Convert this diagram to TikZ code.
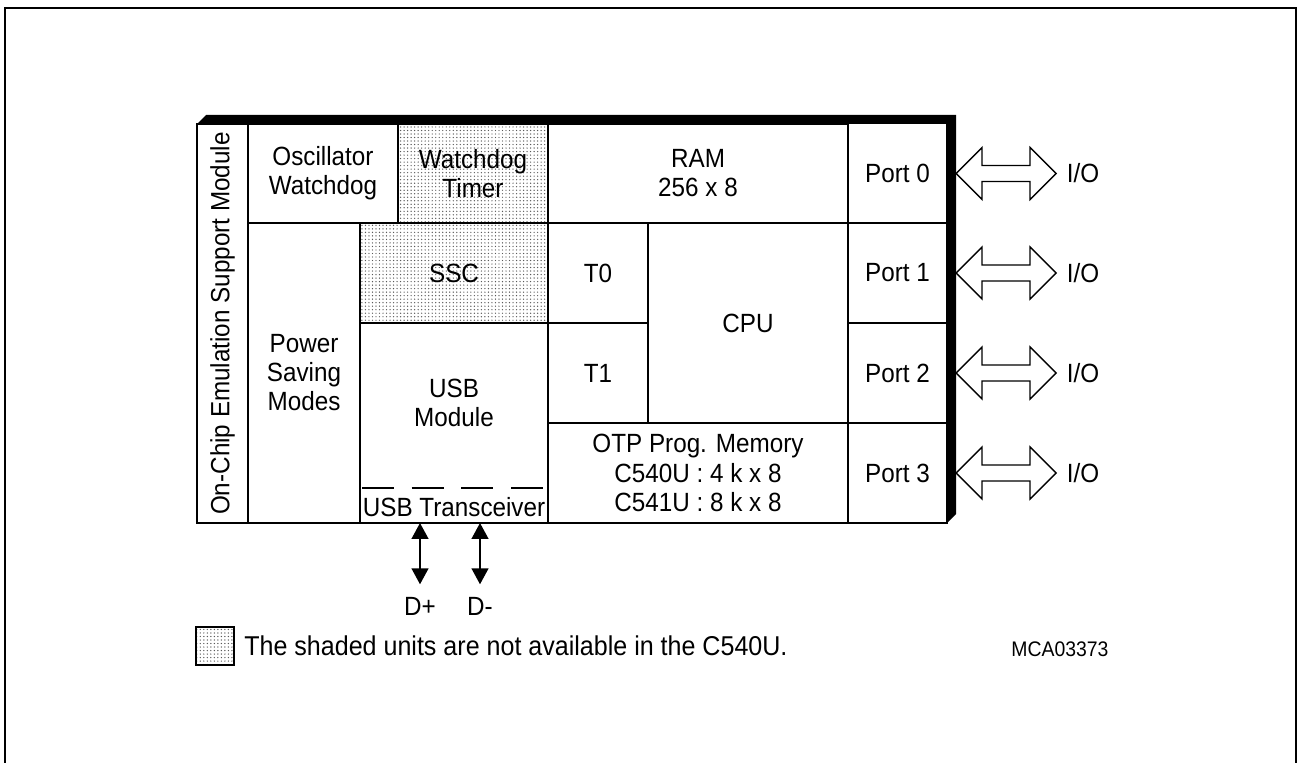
\documentclass[tikz,border=0pt]{standalone}
\usepackage{fontspec}
\setmainfont[FakeStretch=0.92]{Liberation Sans}
\usetikzlibrary{arrows.meta,patterns}

\pgfdeclarepatternformonly{finedots}{\pgfqpoint{-1pt}{-1pt}}{\pgfqpoint{1pt}{1pt}}{\pgfqpoint{2pt}{2pt}}{\pgfpathcircle{\pgfqpoint{0pt}{0pt}}{.4pt}\pgfusepath{fill}}

\tikzset{
  txt/.style={align=center, inner sep=0pt},
  cell/.style={txt, draw, line width=1pt},
  shaded/.style={pattern=finedots, pattern color=black!65},
  dline/.style={line width=1pt, {Triangle[length=9pt,width=9.5pt]}-{Triangle[length=9pt,width=9.5pt]}},
}

\begin{document}
\begin{tikzpicture}[x=0.02cm, y=-0.02cm, font=\fontsize{15}{16.5}\selectfont]
				\useasboundingbox (0,0) rectangle (1297,763);
				\draw[line width=1.2pt] (5,780) -- (5,8) -- (1296.5,8) -- (1296.5,780);
				% raised edge of the chip
				\fill (197,124) -- (206,115) -- (956,115) -- (956,514) -- (947,523) -- (947,124) -- cycle;
				\node[cell, rotate=90, minimum width=7.98cm, minimum height=1.02cm] (emu) at (222.5,323.5) {On-Chip Emulation Support Module};
				\node[cell, minimum width=3cm, minimum height=1.98cm] (osc) at (323,173.5) {Oscillator\\Watchdog};
				\node[cell, shaded, minimum width=3cm, minimum height=1.98cm] (wdt) at (473,173.5) {Watchdog\\Timer};
				\node[cell, minimum width=6cm, minimum height=1.98cm] (ram) at (698,173.5) {RAM\\256 x 8};
				\node[cell, minimum width=2.24cm, minimum height=6cm] (psm) at (304,373) {Power\\Saving\\Modes};
				\node[cell, shaded, minimum width=3.76cm, minimum height=2cm] (ssc) at (454,273) {SSC};
				\node[cell, minimum width=3.76cm, minimum height=4cm] (usb) at (454,423) {};
				\node[txt] (usbtext) at (454,403) {USB\\Module};
				\draw[line width=1pt, dash pattern=on 18.1pt off 10.2pt] (362,488) -- (545,488);
				\node[txt] (xcvr) at (454,507) {USB Transceiver};
				\node[cell, minimum width=2cm, minimum height=2cm] (t0) at (598,273) {T0};
				\node[cell, minimum width=2cm, minimum height=2cm] (t1) at (598,373) {T1};
				\node[cell, minimum width=4cm, minimum height=4cm] (cpu) at (748,323) {CPU};
				\node[cell, font=\fontsize{15}{17}\selectfont, minimum width=6cm, minimum height=2cm] (otp) at (698,473) {OTP Prog. Memory\\C540U : 4 k x 8\\C541U : 8 k x 8};
				% ports and I/O arrows
				\foreach \p/\y in {0/173.5, 1/273, 2/373, 3/473} {
					\node[cell, minimum width=1.98cm, minimum height=2cm] (port\p) at (897.5,\y) {Port \p};
					\draw[line width=0.8pt, fill=white, shift={(956,\y)}] (0,0) -- (26,26) -- (26,8) -- (74,8) -- (74,26) -- (100,0) -- (74,-26) -- (74,-8) -- (26,-8) -- (26,-26) -- cycle;
					\node[txt] (io\p) at (1083,\y) {I/O};
				}
				% USB lines
				\coordinate (dpin) at (420,523);
				\coordinate (dmin) at (480,523);
				\node[txt] (dplus) at (420,606) {D+};
				\node[txt] (dminus) at (480,606) {D-};
				\draw[dline, shorten >=7pt] (dpin) -- (dplus.north);
				\draw[dline, shorten >=7pt] (dmin) -- (dminus.north);
				% legend
				\node[draw, line width=0.8pt, shaded, minimum size=0.76cm, inner sep=0pt] (key) at (215,646) {};
				\node[txt, anchor=west, font=\fontsize{15.5}{17}\selectfont] (note) at (244,646) {The shaded units are not available in the C540U.};
				\node[txt, font=\fontsize{12}{14}\selectfont] (figno) at (1060,649) {MCA03373};
			\end{tikzpicture}
\end{document}
